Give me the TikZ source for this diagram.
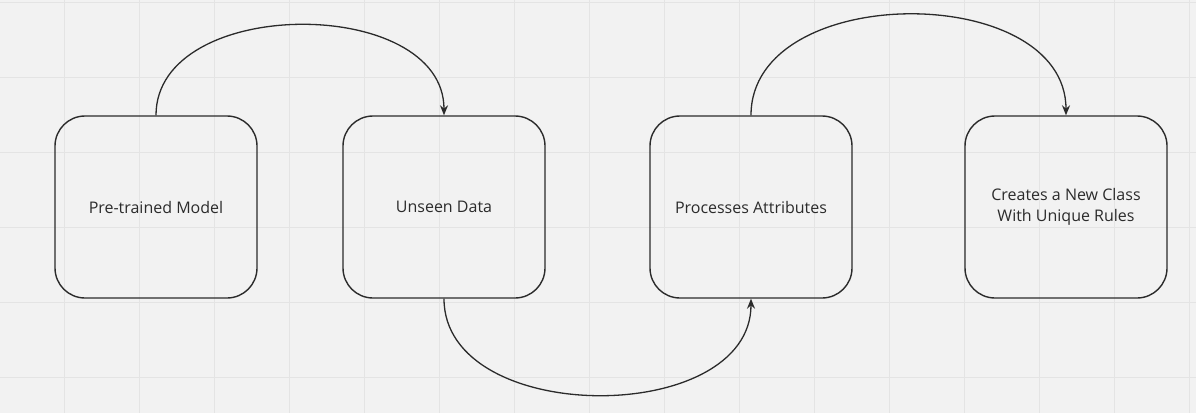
\documentclass[tikz,border=0pt]{standalone}
\usepackage{fontspec}
\setmainfont{Open Sans}
\usetikzlibrary{arrows.meta}
\definecolor{bg}{HTML}{F2F2F2}
\definecolor{gridc}{HTML}{E4E4E4}
\definecolor{ink}{HTML}{2B2B2B}
\begin{document}
\begin{tikzpicture}[x=1pt,y=-1pt,
  box/.style={draw=ink,line width=1.4pt,rounded corners=30pt,minimum width=202pt,minimum height=182pt,inner sep=0pt,align=center,font=\fontsize{16}{21}\selectfont,text=ink},
  conn/.style={draw=ink,line width=1.3pt,-{Stealth[length=10pt,width=8pt]}}]
\useasboundingbox (0,0) rectangle (1196,413);
\fill[bg] (0,0) rectangle (1196,413);
\foreach \x in {-11,64,...,1196} \draw[gridc,line width=1pt] (\x,0) -- (\x,413);
\foreach \y in {2,77,...,413} \draw[gridc,line width=1pt] (0,\y) -- (1196,\y);
\node[box] (a) at (156,207) {Pre-trained Model};
\node[box] (b) at (444,207) {Unseen Data};
\node[box] (c) at (751,207) {Processes Attributes};
\node[box] (d) at (1066,207) {Creates a New Class\\With Unique Rules};
\draw[conn] (a.north) .. controls (156,-5) and (444,-5) .. (b.north);
\draw[conn] (b.south) .. controls (444,427) and (751,427) .. (c.south);
\draw[conn] (c.north) .. controls (751,-19) and (1066,-19) .. (d.north);
\end{tikzpicture}
\end{document}
